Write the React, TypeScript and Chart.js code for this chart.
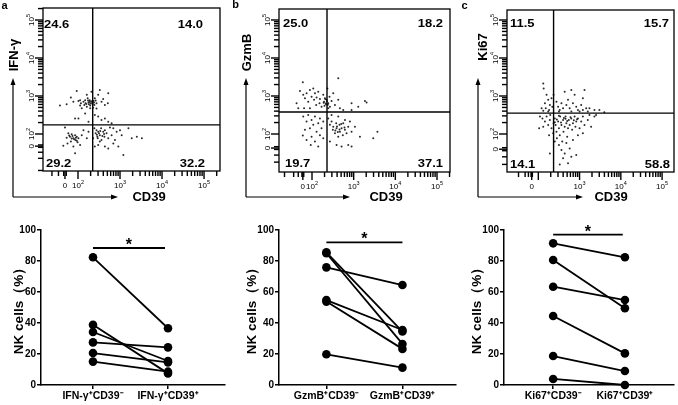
import React, { useEffect, useRef } from 'react';
import { Chart, registerables } from 'chart.js';
Chart.register(...registerables);

const FONT = '"Liberation Sans", Arial, Helvetica, sans-serif';

// ---------- flow cytometry panels (display units: decades, 10^2 = 2) ----------
const quadA = ['24.6', '14.0', '29.2', '32.2']; // UL, UR, LL, LR
const quadB = ['25.0', '18.2', '19.7', '37.1'];
const quadC = ['11.5', '15.7', '14.1', '58.8'];

const gateA = [2.35, 2.24];
const gateB = [2.36, 2.58];
const gateC = [2.37, 2.55];

const MAJOR_TICKS = [0, 100, 1000, 10000, 100000];
const LINEAR_TICKS = [-200, -100, -50, -10, 10];
const MINOR_MULT = [2, 3, 4, 5, 6, 7, 8, 9];
const MINOR_DECADES = [100, 1000, 10000];
const EXTRA_TICKS = [200000, 300000];
const xLabelsAB = [0, 100, 1000, 10000, 100000];
const xLabelsC = [0, 1000, 10000, 100000];
const yLabels = [0, 100, 1000, 10000, 100000];

const dotsA: number[][] = [
  [1.57, 2.75], [1.73, 2.78], [1.83, 2.96], [1.89, 2.85], [1.97, 3.13], [2.01, 2.87], [2.05, 2.89], [2.07, 2.81],
  [2.09, 2.68], [2.13, 2.85], [2.15, 2.76], [2.17, 2.89], [2.18, 2.81], [2.21, 3.03], [2.21, 2.72], [2.25, 2.83],
  [2.26, 2.78], [2.28, 2.89], [2.29, 2.75], [2.31, 2.85], [2.32, 3.11], [2.34, 2.81], [2.36, 2.69], [2.37, 2.87],
  [2.39, 2.76], [2.40, 2.94], [2.44, 2.81], [2.44, 2.67], [2.48, 3.03], [2.52, 3.16], [2.56, 2.85], [2.60, 2.92],
  [2.64, 2.76], [2.71, 2.81], [2.72, 3.07], [1.93, 2.41], [2.01, 2.41], [2.17, 2.54], [2.25, 2.32], [2.40, 2.50],
  [2.48, 2.46], [2.56, 2.37], [2.64, 2.41], [2.72, 2.32], [2.80, 2.28], [2.05, 2.75], [2.29, 2.68], [2.23, 2.94],
  [2.30, 2.80], [2.33, 2.86], [2.27, 2.84], [2.35, 2.78], [2.24, 2.88], [2.38, 2.83], [2.20, 2.79], [2.42, 2.88],
  [1.69, 2.17], [1.77, 2.02], [1.81, 1.93], [1.85, 1.99], [1.89, 1.89], [1.93, 1.97], [1.94, 1.84], [1.97, 1.93],
  [1.99, 1.78], [2.01, 1.89], [1.83, 1.80], [1.75, 1.75], [1.65, 1.69], [1.89, 1.67], [2.05, 1.71], [2.09, 1.97],
  [2.13, 2.10], [2.21, 1.89], [2.25, 2.06], [1.93, 1.49], [1.73, 1.90], [1.87, 1.95], [1.91, 1.86], [1.95, 1.90],
  [1.79, 1.96], [1.97, 1.82], [1.85, 1.88],
  [2.39, 2.15], [2.42, 2.02], [2.44, 2.10], [2.47, 1.89], [2.48, 2.06], [2.52, 1.97], [2.55, 2.15], [2.56, 1.84],
  [2.60, 2.06], [2.63, 1.93], [2.64, 2.10], [2.68, 2.02], [2.72, 1.89], [2.76, 2.17], [2.80, 1.97], [2.84, 1.75],
  [2.88, 1.84], [2.92, 2.06], [2.96, 1.67], [3.04, 1.97], [3.20, 2.15], [3.28, 1.89], [3.40, 1.93], [3.52, 1.89],
  [3.08, 1.45], [2.40, 1.67], [2.48, 1.71], [2.64, 1.67], [2.72, 1.62], [2.36, 1.89], [2.52, 1.80], [2.84, 2.15],
  [3.00, 2.10], [2.45, 1.98], [2.50, 2.02], [2.58, 1.95], [2.53, 2.08], [2.46, 1.93], [2.62, 2.00],
];

const dotsB: number[][] = [
  [1.78, 3.36], [2.63, 3.47], [1.71, 3.13], [1.79, 3.03], [1.83, 2.94], [1.87, 3.07], [1.91, 2.85], [1.95, 3.16],
  [1.99, 2.98], [2.03, 3.20], [2.05, 2.90], [2.07, 3.07], [2.10, 2.76], [2.11, 2.96], [2.15, 3.11], [2.18, 2.81],
  [2.19, 2.92], [2.23, 2.72], [2.27, 3.03], [2.29, 2.85], [2.31, 2.94], [2.34, 2.78], [2.35, 2.90], [2.37, 3.20],
  [2.39, 2.81], [2.42, 2.98], [2.43, 2.72], [2.47, 2.87], [2.51, 3.07], [2.55, 2.76], [2.63, 2.90], [2.67, 2.68],
  [2.75, 2.63], [2.95, 2.81], [3.11, 2.72], [3.27, 2.87], [3.31, 2.83], [1.67, 2.68], [1.81, 2.68], [1.95, 2.68],
  [2.95, 2.63], [2.39, 2.68], [1.63, 2.81], [2.33, 2.80], [2.36, 2.86], [2.30, 2.74], [2.38, 2.77], [2.32, 2.92],
  [2.28, 2.82],
  [1.79, 2.46], [1.87, 2.33], [1.91, 2.50], [1.95, 2.15], [1.99, 2.37], [2.03, 2.24], [2.07, 2.46], [2.11, 2.06],
  [2.15, 2.28], [2.19, 2.41], [2.23, 2.15], [2.27, 2.33], [1.78, 1.96], [1.87, 1.84], [1.99, 1.93], [2.07, 1.80],
  [2.19, 1.97], [2.15, 1.67], [2.27, 1.89], [1.97, 1.71], [1.83, 2.11],
  [2.39, 2.41], [2.43, 2.24], [2.47, 2.33], [2.50, 2.11], [2.51, 2.19], [2.55, 2.02], [2.58, 2.28], [2.59, 2.15],
  [2.63, 1.93], [2.66, 2.24], [2.67, 2.06], [2.71, 2.15], [2.74, 1.97], [2.75, 2.28], [2.79, 2.11], [2.83, 2.02],
  [2.87, 2.19], [2.91, 2.33], [2.95, 2.06], [3.03, 2.19], [3.15, 1.93], [3.47, 1.89], [3.57, 2.06], [2.43, 1.80],
  [2.59, 1.71], [2.71, 1.67], [2.87, 1.71], [2.95, 1.67], [2.47, 2.50], [2.63, 2.46], [2.79, 2.37], [2.60, 2.20],
  [2.66, 2.12], [2.70, 2.26], [2.56, 2.09], [2.78, 2.17], [2.62, 2.05],
];

const dotsC: number[][] = [
  [2.12, 3.33], [2.13, 3.20], [2.20, 3.03], [2.24, 2.90], [2.16, 2.81], [2.28, 2.76], [2.32, 2.94], [2.08, 2.68],
  [2.18, 2.68], [2.26, 2.63], [2.34, 2.72], [2.44, 2.85], [2.48, 2.72], [2.52, 2.63], [2.56, 2.81], [2.60, 2.68],
  [2.64, 3.11], [2.68, 2.76], [2.72, 2.90], [2.76, 2.68], [2.80, 3.16], [2.84, 2.81], [2.88, 3.03], [2.92, 2.72],
  [2.96, 2.63], [3.04, 2.76], [3.08, 2.94], [3.12, 3.16], [3.16, 2.68], [3.08, 2.63], [3.24, 2.68], [3.36, 2.63],
  [3.48, 2.63], [3.60, 2.57], [2.37, 3.03], [2.12, 2.61], [2.24, 2.59], [2.50, 2.59], [3.00, 2.59], [3.20, 2.59],
  [2.80, 2.59],
  [2.04, 2.46], [2.10, 2.41], [2.16, 2.33], [2.20, 2.46], [2.24, 2.24], [2.28, 2.37], [2.32, 2.15], [2.02, 2.15],
  [2.12, 2.19], [2.40, 2.41], [2.42, 2.24], [2.44, 2.06], [2.45, 1.89], [2.48, 2.33], [2.50, 2.15], [2.52, 1.97],
  [2.53, 2.46], [2.56, 2.24], [2.58, 1.80], [2.60, 2.37], [2.61, 2.06], [2.64, 2.19], [2.66, 2.46], [2.68, 2.28],
  [2.70, 1.93], [2.72, 2.15], [2.74, 2.37], [2.76, 2.24], [2.80, 2.41], [2.82, 2.11], [2.84, 2.28], [2.88, 2.46],
  [2.90, 2.19], [2.92, 2.33], [2.96, 2.41], [3.00, 2.15], [3.04, 2.33], [3.08, 2.46], [3.12, 2.24], [3.20, 2.37],
  [3.24, 2.50], [3.28, 2.19], [3.36, 2.46], [3.40, 2.50], [2.50, 1.71], [2.56, 1.58], [2.64, 1.49], [2.28, 1.49],
  [2.60, 1.36], [2.72, 1.23], [2.80, 1.40], [2.52, 1.20], [2.92, 1.45], [2.76, 1.62], [2.40, 1.80], [2.36, 2.02],
  [2.68, 1.76], [2.84, 1.84], [2.96, 1.97], [3.08, 2.02], [2.29, 2.50], [2.37, 2.28], [2.26, 1.97], [2.45, 2.38],
  [2.55, 2.30], [2.62, 2.42], [2.70, 2.34], [2.78, 2.44], [2.86, 2.36], [2.50, 2.48], [2.40, 2.31], [2.66, 2.40],
  [2.94, 2.39],
];

// ---------- paired NK-cell percentages ----------
const ifnNeg = [82.4, 38.8, 34.2, 27.5, 20.6, 15.1];
const ifnPos = [36.6, 7.5, 15.5, 24.3, 14.6, 8.6];
const gzmNeg = [85.6, 85.0, 75.9, 54.8, 53.8, 19.8];
const gzmPos = [34.5, 26.5, 64.5, 35.5, 23.3, 11.2];
const kiNeg = [91.4, 80.6, 63.4, 44.5, 18.7, 3.9];
const kiPos = [82.4, 49.5, 54.8, 20.4, 9.0, 0];

const catsA = ['IFN-γ⁺CD39⁻', 'IFN-γ⁺CD39⁺'];
const catsB = ['GzmB⁺CD39⁻', 'GzmB⁺CD39⁺'];
const catsC = ['Ki67⁺CD39⁻', 'Ki67⁺CD39⁺'];
const yTicksPct = [0, 20, 40, 60, 80, 100];

// ---------- helpers ----------
const T = (v: number, z: number) => (v >= 100 ? Math.log10(v) : z + ((2 - z) * v) / 100);

const ALL_TICKS: number[] = [];
for (let i = 0; i < LINEAR_TICKS.length; i++) ALL_TICKS.push(LINEAR_TICKS[i]);
for (let i = 0; i < MAJOR_TICKS.length; i++) ALL_TICKS.push(MAJOR_TICKS[i]);
for (let d = 0; d < MINOR_DECADES.length; d++) {
  for (let m = 0; m < MINOR_MULT.length; m++) ALL_TICKS.push(MINOR_MULT[m] * MINOR_DECADES[d]);
}
for (let i = 0; i < EXTRA_TICKS.length; i++) ALL_TICKS.push(EXTRA_TICKS[i]);

function txt(ctx: CanvasRenderingContext2D, s: string, x: number, y: number, size: number, weight: string,
  align: CanvasTextAlign, sx = 1, rot = 0) {
  ctx.save();
  ctx.translate(x, y);
  if (rot) ctx.rotate(rot);
  ctx.scale(sx, 1);
  ctx.font = `${weight} ${size}px ${FONT}`;
  ctx.textAlign = align;
  ctx.textBaseline = 'middle';
  ctx.fillStyle = '#000';
  ctx.fillText(s, 0, 0);
  ctx.restore();
}

function powLabel(ctx: CanvasRenderingContext2D, v: number, x: number, y: number, rot: number) {
  ctx.save();
  ctx.translate(x, y);
  if (rot) ctx.rotate(rot);
  ctx.fillStyle = '#000';
  ctx.textBaseline = 'middle';
  ctx.textAlign = 'left';
  if (v === 0) {
    ctx.font = `8px ${FONT}`;
    ctx.textAlign = 'center';
    ctx.fillText('0', 0, 1);
  } else {
    const e = String(Math.round(Math.log10(v)));
    ctx.font = `8px ${FONT}`;
    const w1 = ctx.measureText('10').width;
    ctx.font = `5.5px ${FONT}`;
    const w2 = ctx.measureText(e).width;
    const x0 = -(w1 + w2) / 2;
    ctx.font = `8px ${FONT}`;
    ctx.fillText('10', x0, 1);
    ctx.font = `5.5px ${FONT}`;
    ctx.fillText(e, x0 + w1, -2.5);
  }
  ctx.restore();
}

function line(ctx: CanvasRenderingContext2D, x1: number, y1: number, x2: number, y2: number) {
  ctx.beginPath();
  ctx.moveTo(x1, y1);
  ctx.lineTo(x2, y2);
  ctx.stroke();
}

type FlowCfg = {
  key: string; canvasLeft: number; width: number;
  box: number[]; // page coords l,t,r,b
  xRange: number[]; yRange: number[]; xZero: number; yZero: number;
  gate: number[]; dots: number[][]; quad: string[];
  quadX: number[]; quadY: number[];
  xLabels: number[]; yTitle: string; yTitlePos: number[]; cdX: number;
  arrowX: number; arrowEnd: number; letter: string; letterPos: number[];
};

const flowPanels: FlowCfg[] = [
  {
    key: 'a', canvasLeft: 0, width: 228, box: [43, 8, 220, 171], xRange: [1.167, 5.38], yRange: [1.026, 5.316],
    xZero: 1.69, yZero: 1.68, gate: gateA, dots: dotsA, quad: quadA, quadX: [44, 203, 46, 205], quadY: [24.5, 164],
    xLabels: xLabelsAB, yTitle: 'IFN-γ', yTitlePos: [14, 55], cdX: 149, arrowX: 13, arrowEnd: 118, letter: 'a', letterPos: [4.5, 5.5],
  },
  {
    key: 'b', canvasLeft: 230, width: 228, box: [279, 9, 450, 172], xRange: [1.208, 5.312], yRange: [1.0, 5.289],
    xZero: 1.78, yZero: 1.63, gate: gateB, dots: dotsB, quad: quadB, quadX: [283, 443, 285, 443], quadY: [24, 164],
    xLabels: xLabelsAB, yTitle: 'GzmB', yTitlePos: [247.5, 52.5], cdX: 386, arrowX: 246, arrowEnd: 350, letter: 'b', letterPos: [235.5, 5],
  },
  {
    key: 'c', canvasLeft: 458, width: 220, box: [507, 10, 675, 172], xRange: [1.241, 5.289], yRange: [1.0, 5.263],
    xZero: 1.84, yZero: 1.6, gate: gateC, dots: dotsC, quad: quadC, quadX: [510, 669, 510, 670], quadY: [24, 165],
    xLabels: xLabelsC, yTitle: 'Ki67', yTitlePos: [483, 47], cdX: 611, arrowX: 478, arrowEnd: 583, letter: 'c', letterPos: [464.5, 6],
  },
];

// ticks drawn as filled rectangles, positioned through the chart's scales
function drawFlowTicks(ctx: CanvasRenderingContext2D, c: FlowCfg, xs: any, ys: any, left: number, bottom: number) {
  ctx.save();
  ctx.fillStyle = '#000000';
  const w = 1.4;
  for (let i = 0; i < ALL_TICKS.length; i++) {
    const v = ALL_TICKS[i];
    const major = MAJOR_TICKS.indexOf(v) >= 0;
    const len = major ? 8 : 5;
    const ux = T(v, c.xZero);
    if (ux >= c.xRange[0] && ux <= c.xRange[1]) {
      const p = xs.getPixelForValue(ux);
      ctx.fillRect(p - w / 2, bottom, w, len);
    }
    const uy = T(v, c.yZero);
    if (uy >= c.yRange[0] && uy <= c.yRange[1]) {
      const p = ys.getPixelForValue(uy);
      ctx.fillRect(left - len, p - w / 2, len, w);
    }
  }
  ctx.restore();
}

function flowPlugin(c: FlowCfg) {
  return {
    id: 'flowDeco' + c.key,
    afterDraw(chart: any) {
      const ctx: CanvasRenderingContext2D = chart.ctx;
      const { left, right, top, bottom } = chart.chartArea;
      const xs = chart.scales.x;
      const ys = chart.scales.y;
      const ox = c.canvasLeft;
      ctx.save();
      ctx.strokeStyle = '#000';
      ctx.lineWidth = 1.3;
      ctx.strokeRect(left, top, right - left, bottom - top);
      const gx = xs.getPixelForValue(c.gate[0]);
      const gy = ys.getPixelForValue(c.gate[1]);
      ctx.lineWidth = 1.4;
      line(ctx, gx, top, gx, bottom);
      line(ctx, left, gy, right, gy);
      ctx.restore();
      drawFlowTicks(ctx, c, xs, ys, left, bottom);
      ctx.save();
      for (const v of c.xLabels) {
        powLabel(ctx, v, xs.getPixelForValue(T(v, c.xZero)), bottom + 14, 0);
      }
      for (const v of yLabels) {
        powLabel(ctx, v, left - 12, ys.getPixelForValue(T(v, c.yZero)), -Math.PI / 2);
      }
      // quadrant percentages
      txt(ctx, c.quad[0], c.quadX[0] - ox, c.quadY[0], 11, 'bold', 'left', 1.18);
      txt(ctx, c.quad[1], c.quadX[1] - ox, c.quadY[0], 11, 'bold', 'right', 1.18);
      txt(ctx, c.quad[2], c.quadX[2] - ox, c.quadY[1], 11, 'bold', 'left', 1.18);
      txt(ctx, c.quad[3], c.quadX[3] - ox, c.quadY[1], 11, 'bold', 'right', 1.18);
      // axis titles
      txt(ctx, 'CD39', c.cdX - ox, 197.5, 13, 'bold', 'center');
      txt(ctx, c.yTitle, c.yTitlePos[0] - ox, c.yTitlePos[1], 13, 'bold', 'center', 1, -Math.PI / 2);
      txt(ctx, c.letter, c.letterPos[0] - ox, c.letterPos[1], 11, 'bold', 'center');
      // arrows
      const ax = c.arrowX - ox;
      const ay = 197;
      ctx.strokeStyle = '#000';
      ctx.lineWidth = 1.2;
      line(ctx, ax, ay, ax, 84);
      line(ctx, ax, ay, c.arrowEnd - ox - 5, ay);
      ctx.fillStyle = '#000';
      ctx.beginPath();
      ctx.moveTo(ax, 78); ctx.lineTo(ax - 2.5, 85); ctx.lineTo(ax + 2.5, 85); ctx.closePath(); ctx.fill();
      const ex = c.arrowEnd - ox;
      ctx.beginPath();
      ctx.moveTo(ex, ay); ctx.lineTo(ex - 7, ay - 2.5); ctx.lineTo(ex - 7, ay + 2.5); ctx.closePath(); ctx.fill();
      ctx.restore();
    },
  };
}

function flowConfig(c: FlowCfg): any {
  return {
    type: 'scatter',
    data: {
      datasets: [{
        data: c.dots.map(([x, y]) => ({ x, y })),
        pointRadius: 1, pointBackgroundColor: '#2a2a2a', pointBorderWidth: 0, borderWidth: 0,
      }],
    },
    options: {
      responsive: false, animation: false, events: [],
      layout: {
        padding: {
          left: c.box[0] - c.canvasLeft, top: c.box[1],
          right: c.canvasLeft + c.width - c.box[2], bottom: 205 - c.box[3],
        },
      },
      plugins: { legend: { display: false }, tooltip: { enabled: false } },
      scales: {
        x: { type: 'linear', display: false, min: c.xRange[0], max: c.xRange[1] },
        y: { type: 'linear', display: false, min: c.yRange[0], max: c.yRange[1] },
      },
    },
    plugins: [flowPlugin(c)],
  };
}

type PairCfg = {
  key: string; canvasLeft: number; width: number; neg: number[]; pos: number[]; cats: string[];
  xMin: number; xMax: number; yAxisWidth: number; rightPad: number; titlePad: number; sigY: number; sigEnd: number;
};

const pairPanels: PairCfg[] = [
  { key: 'pa', canvasLeft: 0, width: 230, neg: ifnNeg, pos: ifnPos, cats: catsA, xMin: 0.307, xMax: 2.76, yAxisWidth: 41, rightPad: 5, titlePad: 11.5, sigY: 88.4, sigEnd: 1.96 },
  { key: 'pb', canvasLeft: 230, width: 230, neg: gzmNeg, pos: gzmPos, cats: catsB, xMin: 0.377, xMax: 2.70, yAxisWidth: 49, rightPad: 2, titlePad: 14, sigY: 92, sigEnd: 2.0 },
  { key: 'pc', canvasLeft: 455, width: 223, neg: kiNeg, pos: kiPos, cats: catsC, xMin: 0.315, xMax: 2.68, yAxisWidth: 49, rightPad: 1, titlePad: 14, sigY: 97, sigEnd: 1.97 },
];

function sigPlugin(p: PairCfg) {
  return {
    id: 'sig' + p.key,
    afterDraw(chart: any) {
      const ctx: CanvasRenderingContext2D = chart.ctx;
      const xs = chart.scales.x;
      const ys = chart.scales.y;
      const y = ys.getPixelForValue(p.sigY);
      const x1 = xs.getPixelForValue(1);
      const x2 = xs.getPixelForValue(p.sigEnd);
      ctx.save();
      ctx.strokeStyle = '#000';
      ctx.lineWidth = 1.8;
      line(ctx, x1, y, x2, y);
      txt(ctx, '*', (x1 + x2) / 2, y - 2.5, 16, 'bold', 'center');
      ctx.restore();
    },
  };
}

function pairConfig(p: PairCfg): any {
  const bold = (size: number) => ({ family: FONT, size, weight: 'bold' });
  return {
    type: 'scatter',
    data: {
      datasets: p.neg.map((v, i) => ({
        data: [{ x: 1, y: v }, { x: 2, y: p.pos[i] }],
        showLine: true, borderColor: '#000', borderWidth: 1.8,
        pointRadius: 4.3, pointBackgroundColor: '#000', pointBorderWidth: 0, clip: false,
      })),
    },
    options: {
      responsive: false, animation: false, events: [],
      layout: { padding: { top: 25, right: p.rightPad, left: 0, bottom: 0 } },
      plugins: { legend: { display: false }, tooltip: { enabled: false } },
      scales: {
        x: {
          type: 'linear', min: p.xMin, max: p.xMax,
          afterBuildTicks: (s: any) => { s.ticks = [{ value: 1 }, { value: 2 }]; },
          afterFit: (s: any) => { s.height = 20; },
          ticks: {
            callback: (v: any) => p.cats[Math.round(Number(v)) - 1] ?? '',
            font: bold(10.5), color: '#000', padding: 1, maxRotation: 0, minRotation: 0, autoSkip: false,
          },
          grid: { drawOnChartArea: false, drawTicks: true, tickLength: 4, color: '#000', lineWidth: 1.5 },
          border: { color: '#000', width: 1.5 },
        },
        y: {
          type: 'linear', min: 0, max: 100,
          afterBuildTicks: (s: any) => { s.ticks = yTicksPct.map((value) => ({ value })); },
          afterFit: (s: any) => { s.width = p.yAxisWidth; },
          ticks: { font: bold(10), color: '#000', padding: 1 },
          grid: { drawOnChartArea: false, drawTicks: true, tickLength: 4, color: '#000', lineWidth: 1.5 },
          border: { color: '#000', width: 1.5 },
          title: {
            display: true, text: 'NK cells（%）', color: '#000', font: bold(13.5),
            padding: { top: p.titlePad, bottom: 0 },
          },
        },
      },
    },
    plugins: [sigPlugin(p)],
  };
}

function ChartCanvas(props: { left: number; top: number; width: number; height: number; build: () => any }) {
  const ref = useRef<HTMLCanvasElement>(null);
  useEffect(() => {
    const ch = new Chart(ref.current as HTMLCanvasElement, props.build());
    return () => ch.destroy();
  }, []);
  return (
    <canvas
      ref={ref}
      width={props.width}
      height={props.height}
      style={{ position: 'absolute', left: props.left, top: props.top, width: props.width, height: props.height }}
    />
  );
}

export default function App() {
  return (
    <div style={{ position: 'absolute', left: 0, top: 0, width: 678, height: 405, background: '#fff', overflow: 'hidden' }}>
      {flowPanels.map((c) => (
        <ChartCanvas key={c.key} left={c.canvasLeft} top={0} width={c.width} height={205} build={() => flowConfig(c)} />
      ))}
      {pairPanels.map((p) => (
        <ChartCanvas key={p.key} left={p.canvasLeft} top={205} width={p.width} height={200} build={() => pairConfig(p)} />
      ))}
    </div>
  );
}
